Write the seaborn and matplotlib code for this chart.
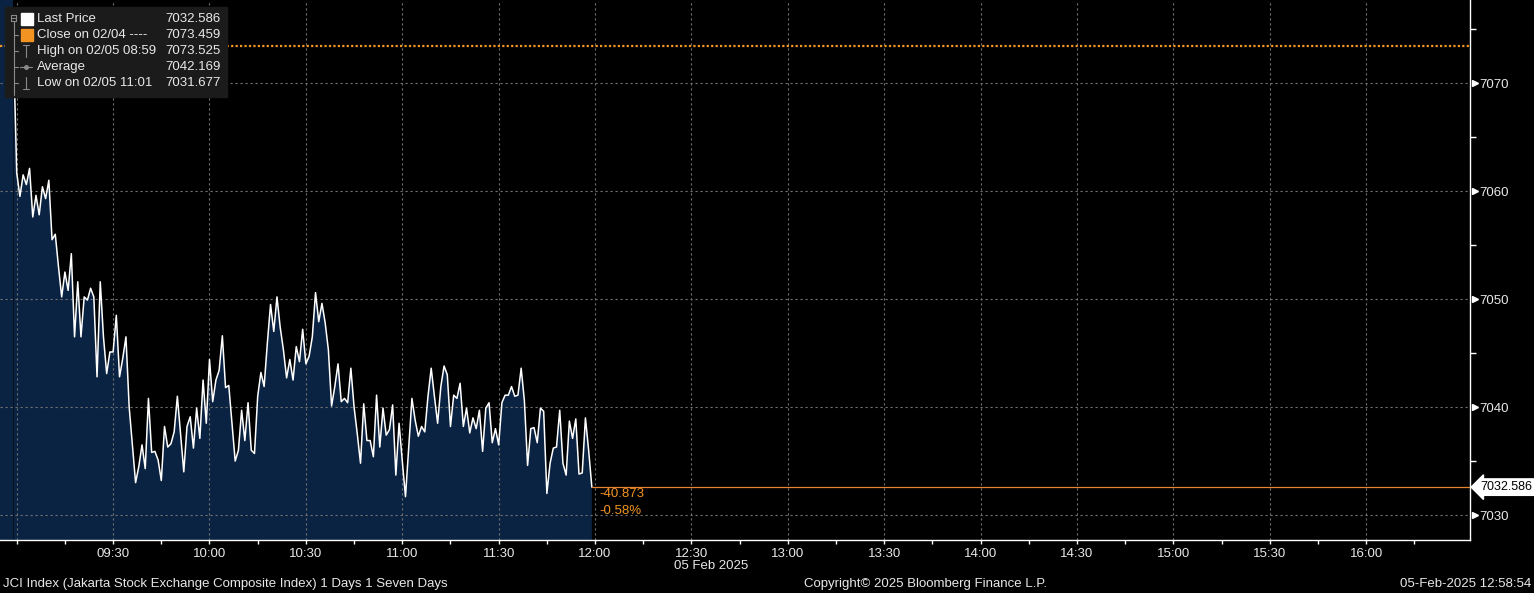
import numpy as np
import pandas as pd
import matplotlib
matplotlib.use('Agg')
from matplotlib import pyplot as plt
from matplotlib import transforms
from matplotlib.lines import Line2D
from matplotlib.patches import Rectangle
import seaborn as sns

# DATA - JCI index, one print per minute from 08:59 to 11:59
prices = [
    7073.5, 7061.7, 7059.5, 7061.5, 7060.6, 7062.1, 7057.6, 7059.6, 7057.8, 7060.4,
    7059.3, 7061.0, 7055.5, 7056.0, 7053.0, 7050.2, 7052.5, 7050.8, 7054.2, 7046.5,
    7051.6, 7046.5, 7050.2, 7049.9, 7051.0, 7050.2, 7042.8, 7051.6, 7046.5, 7043.1,
    7045.1, 7045.1, 7048.5, 7042.8, 7044.5, 7046.5, 7040.0, 7036.5, 7033.0, 7034.5,
    7036.5, 7034.3, 7040.8, 7035.8, 7035.9, 7035.1, 7033.2, 7038.2, 7036.3, 7036.6,
    7037.7, 7041.0, 7037.5, 7034.0, 7038.2, 7039.1, 7036.2, 7039.9, 7037.1, 7042.5,
    7038.5, 7044.4, 7040.5, 7042.5, 7043.4, 7046.6, 7041.8, 7042.0, 7038.5, 7035.0,
    7036.0, 7039.7, 7036.9, 7040.4, 7036.0, 7035.7, 7041.0, 7043.2, 7041.9, 7045.9,
    7049.5, 7047.0, 7050.2, 7047.4, 7045.3, 7042.7, 7044.4, 7042.5, 7045.6, 7044.2,
    7047.2, 7044.0, 7044.7, 7046.5, 7050.6, 7047.9, 7049.6, 7047.8, 7045.3, 7040.1,
    7041.9, 7044.0, 7040.5, 7040.8, 7040.4, 7043.6, 7040.0, 7037.5, 7034.8, 7040.3,
    7036.9, 7036.9, 7035.4, 7041.1, 7036.3, 7039.9, 7037.4, 7037.9, 7040.2, 7033.7,
    7038.5, 7035.0, 7031.7, 7036.2, 7040.8, 7038.8, 7037.3, 7038.2, 7037.7, 7041.0,
    7043.6, 7041.0, 7038.5, 7041.9, 7043.8, 7043.0, 7038.2, 7041.1, 7040.8, 7042.2,
    7038.2, 7039.9, 7037.6, 7039.0, 7038.0, 7039.7, 7035.9, 7039.9, 7040.4, 7036.7,
    7038.0, 7036.5, 7040.4, 7041.1, 7041.1, 7041.9, 7041.0, 7041.1, 7043.6, 7040.6,
    7034.6, 7038.0, 7038.1, 7036.7, 7039.9, 7039.6, 7032.0, 7034.8, 7036.2, 7036.3,
    7039.7, 7034.8, 7033.7, 7038.7, 7037.1, 7038.9, 7033.8, 7033.9, 7039.0, 7036.0,
    7032.586,
]
start_time = '08:59'

last_price = 7032.586
prev_close = 7073.459
net_change = '-40.873'
pct_change = '-0.58%'

tick_times = ['09:00', '09:30', '10:00', '10:30', '11:00', '11:30', '12:00', '12:30',
              '13:00', '13:30', '14:00', '14:30', '15:00', '15:30', '16:00']
y_ticks = [7030, 7040, 7050, 7060, 7070]
y_minor = [7035, 7045, 7055, 7065, 7075]

legend_rows = [
    ('Last Price', '7032.586'),
    ('Close on 02/04 ----', '7073.459'),
    ('High on 02/05 08:59', '7073.525'),
    ('Average', '7042.169'),
    ('Low on 02/05 11:01', '7031.677'),
]

# colours
navy = '#0b2342'
orange = '#f39422'
fg = '#e8e8e8'


def to_min(s):
    h, m = s.split(':')
    return int(h) * 60 + int(m)


t0 = to_min(start_time)
df = pd.DataFrame({'minute': t0 + np.arange(len(prices)), 'price': prices})

sns.set_theme(style='dark', rc={'axes.facecolor': 'black', 'figure.facecolor': 'black'})
plt.rcParams['font.family'] = ['Liberation Sans', 'DejaVu Sans']

W, H = 1534, 593
fig = plt.figure(figsize=(W / 100, H / 100), dpi=100)
ax = fig.add_axes([0, 53 / H, 1470 / W, 540 / H])
ax.set_facecolor('black')

x_left, x_right = to_min('08:54') + 0.8, to_min('16:32') + 0.3
ax.set_xlim(x_left, x_right)
ax.set_ylim(7027.69, 7077.69)

# filled area + price line
ax.fill_between(df['minute'], df['price'], 7000, color=navy, lw=0, zorder=1)
ax.axvspan(x_left, df['minute'].iloc[0], color=navy, lw=0, zorder=1)
sns.lineplot(data=df, x='minute', y='price', color='white', lw=1.1, ax=ax, zorder=3)

# previous close (dotted) and last price line
ax.axhline(prev_close, color=orange, lw=1.6, ls=(0, (1, 1)), zorder=4)
ax.plot([df['minute'].iloc[-1], x_right], [last_price, last_price], color='#e8822e', lw=0.9, zorder=4)

# grid
ax.set_axisbelow('line')
ax.grid(True, color='#707070', lw=0.8, ls=(0, (2, 2.5)))

# axes
for s in ['top', 'left']:
    ax.spines[s].set_visible(False)
for s in ['right', 'bottom']:
    ax.spines[s].set_color('white')
    ax.spines[s].set_linewidth(1.0)

ax.yaxis.tick_right()
ax.set_yticks(y_ticks)
ax.set_yticklabels([str(v) for v in y_ticks])
ax.set_yticks(y_minor, minor=True)
ax.tick_params(axis='y', which='major', length=0, pad=7, labelsize=9.5, labelcolor=fg)
ax.tick_params(axis='y', which='minor', length=4, width=1, color='white', direction='out', right=True)
tr = transforms.blended_transform_factory(ax.transAxes, ax.transData)
ax.plot([1 + 5 / 1470] * len(y_ticks), y_ticks, ls='none', marker='>', ms=5, color='white',
        transform=tr, clip_on=False, zorder=5)

ax.set_xticks([to_min(t) for t in tick_times])
ax.set_xticklabels([''] + tick_times[1:])
ax.set_xticks(np.arange(to_min('09:15'), to_min('16:30') + 1, 30), minor=True)
ax.tick_params(axis='x', which='both', length=3, width=1, color='white', direction='out',
               bottom=True, pad=3, labelsize=9.5, labelcolor=fg)
ax.set_xlabel('')
ax.set_ylabel('')

# change annotation
ax.annotate(net_change, xy=(df['minute'].iloc[-1], last_price), xytext=(8, -7),
            textcoords='offset pixels', color=orange, fontsize=9.5, va='center', ha='left')
ax.annotate(pct_change, xy=(df['minute'].iloc[-1], last_price), xytext=(8, -24),
            textcoords='offset pixels', color=orange, fontsize=9.5, va='center', ha='left')

# last price tag on the right axis
ax.text(1 + 10 / 1470, last_price, f'{last_price:.3f}', transform=tr, ha='left', va='center',
        fontsize=9, color='black', clip_on=False, zorder=6,
        bbox=dict(boxstyle='larrow,pad=0.18', fc='white', ec='white'))


# legend box drawn in figure pixels
def fx(px):
    return px / W


def fy(py):
    return 1 - py / H


fig.add_artist(Rectangle((fx(5), fy(97)), fx(222), 90 / H, transform=fig.transFigure,
                         color='#1b1b1b', zorder=10))
gray = '#8a8a8a'
row_y = [19, 35, 51, 67, 83]
for i, (lab, val) in enumerate(legend_rows):
    fig.text(fx(37), fy(row_y[i]), lab, color=fg, fontsize=9.5, va='center', ha='left', zorder=11)
    fig.text(fx(221), fy(row_y[i]), val, color=fg, fontsize=9.5, va='center', ha='right', zorder=11)


def seg(x1, y1, x2, y2, c=gray, lw=0.8):
    fig.add_artist(Line2D([fx(x1), fx(x2)], [fy(y1), fy(y2)], color=c, lw=lw,
                          transform=fig.transFigure, zorder=11))


# tree lines and collapse icon
seg(11, 15, 16, 15); seg(11, 21, 16, 21); seg(11, 15, 11, 21); seg(16, 15, 16, 21)
seg(12, 18, 15, 18)
seg(13.5, 21, 13.5, 95)
for yy in row_y[1:]:
    seg(13.5, yy, 18, yy)
# colour squares
fig.add_artist(Rectangle((fx(21), fy(25)), fx(12), 12 / H, transform=fig.transFigure,
                         color='white', zorder=11))
fig.add_artist(Rectangle((fx(21), fy(41)), fx(12), 12 / H, transform=fig.transFigure,
                         color=orange, zorder=11))
# high / average / low glyphs
seg(26, 45, 26, 57); seg(23, 45, 29, 45)
seg(20, 67, 32, 67)
fig.add_artist(Line2D([fx(26)], [fy(67)], marker='o', ms=2.5, color=gray,
                      transform=fig.transFigure, zorder=11))
seg(26, 77, 26, 89); seg(23, 89, 29, 89)

# date under the axis and footer
fig.text(fx(711), fy(566), '05 Feb 2025', color=fg, fontsize=9.5, ha='center', va='center')
fig.text(fx(3), fy(584), 'JCI Index (Jakarta Stock Exchange Composite Index) 1 Days 1 Seven Days',
         color=fg, fontsize=9.5, ha='left', va='center')
fig.text(fx(925), fy(584), 'Copyright\u00a9 2025 Bloomberg Finance L.P.', color=fg, fontsize=9.5,
         ha='center', va='center')
fig.text(fx(1531), fy(584), '05-Feb-2025 12:58:54', color=fg, fontsize=9.5, ha='right', va='center')

fig.savefig('out.png', dpi=100, facecolor='black')
